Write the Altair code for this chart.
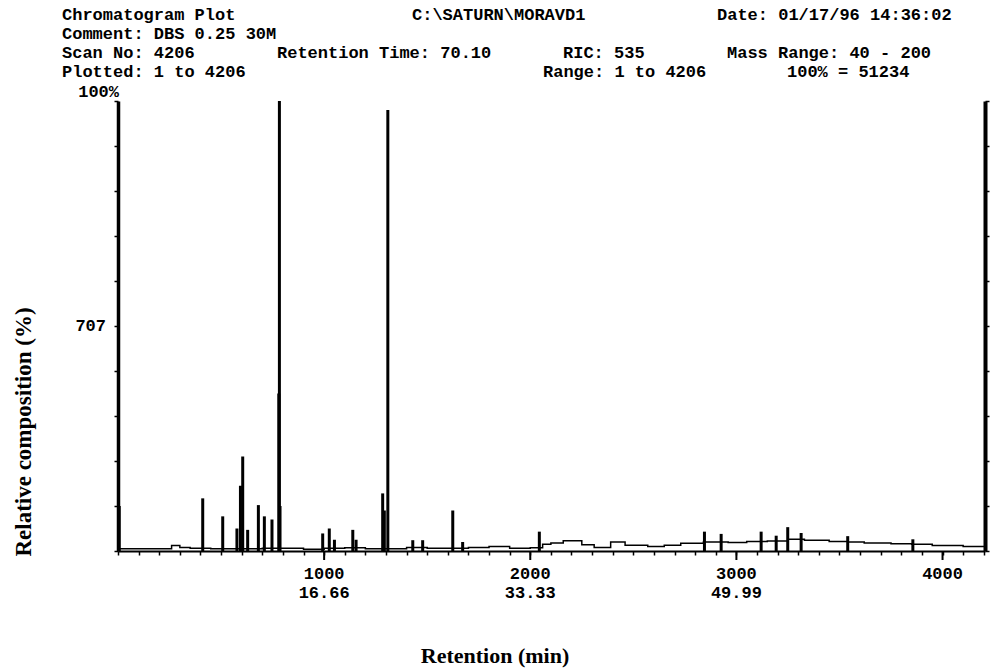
import altair as alt
import pandas as pd

# ---------------- data ----------------
peak_scans = [6, 411, 508, 577, 594, 605, 629, 681, 710, 747, 780, 783, 786,
              993, 1025, 1050, 1139, 1155, 1284, 1292, 1309, 1430, 1478, 1624,
              1672, 2044, 2845, 2926, 3120, 3193, 3249, 3314, 3540, 3856]
peak_heights = [10, 11.7, 7.7, 5, 14.5, 21, 4.7, 10.2, 7.7, 7, 35, 100, 10,
                3.9, 5, 2.5, 4.7, 2.5, 12.8, 9, 98, 2.4, 2.4, 9,
                2, 4.3, 4.3, 3.8, 4.3, 3.4, 5.3, 4, 3.3, 2.6]

base_scans = [0, 250, 260, 300, 350, 450, 700, 800, 900, 1000, 1100, 1200, 1400,
              1500, 1700, 1800, 1900, 2000, 2060, 2100, 2160, 2250, 2310, 2390,
              2460, 2570, 2650, 2730, 2840, 2960, 3050, 3150, 3250, 3330, 3450,
              3540, 3620, 3750, 3850, 3950, 4100, 4206]
base_levels = [0.5, 0.5, 1.2, 0.8, 0.6, 0.5, 0.6, 0.6, 0.4, 0.6, 0.7, 0.5, 0.8,
               0.6, 0.8, 1.0, 0.6, 0.7, 1.5, 1.8, 2.3, 1.4, 0.8, 2.0,
               1.3, 1.0, 1.3, 1.7, 2.0, 1.9, 2.1, 2.2, 2.6, 2.4, 2.1,
               2.0, 1.8, 1.6, 1.5, 1.2, 1.0, 1.0]

tick_scans = [1000, 2000, 3000, 4000]
tick_times = ["16.66", "33.33", "49.99", ""]
minor_ticks = list(range(0, 4201, 100))
y_ticks = list(range(0, 101, 10))

header_texts = ["Chromatogram Plot", "C:\\SATURN\\MORAVD1", "Date: 01/17/96  14:36:02",
                "Comment: DBS 0.25 30M",
                "Scan No: 4206", "Retention Time: 70.10", "RIC: 535", "Mass Range: 40 - 200",
                "Plotted: 1 to 4206", "Range: 1 to 4206", "100% = 51234"]
y_top_label = "100%"
y_mid_value = [50]
y_mid_label = ["707"]
x_title = "Retention (min)"
y_title = "Relative composition (%)"

# ---------------- layout ----------------
PAD_L, PAD_T = 118, 101
W, H = 867, 450
header_x = [62, 412, 717, 62, 62, 277, 563, 727, 62, 543, 787]
header_row = [0, 0, 0, 1, 2, 2, 2, 2, 3, 3, 3]
row_y = [15, 34, 53, 72]
MONO = "Liberation Mono"
SERIF = "Liberation Serif"
HFS = 17

peaks = pd.DataFrame({"scan": peak_scans, "height": peak_heights})
base = pd.DataFrame({"scan": base_scans, "level": base_levels})
ticks = pd.DataFrame({"scan": tick_scans, "time": tick_times,
                      "label": [str(s) for s in tick_scans]})

xs = alt.Scale(domain=[0, 4206], nice=False, zero=False)
ys = alt.Scale(domain=[0, 100], nice=False)

x_axis = alt.Axis(values=minor_ticks, labels=False, title=None, grid=False,
                  domainColor="black", domainWidth=2, tickColor="black",
                  tickSize=4, tickWidth=1.5)
y_left = alt.Axis(values=y_ticks, labels=False, title=None, grid=False, orient="left",
                  domainColor="black", domainWidth=3.5, tickColor="black",
                  tickSize=4, tickWidth=1.5)
y_right = alt.Axis(values=y_ticks, labels=False, title=None, grid=False, orient="right",
                   domainColor="black", domainWidth=4, tickColor="black",
                   tickSize=4, tickWidth=1.5)

baseline = alt.Chart(base).mark_line(color="black", strokeWidth=1.5,
                                     interpolate="step-after").encode(
    x=alt.X("scan:Q", scale=xs, axis=x_axis),
    y=alt.Y("level:Q", scale=ys, axis=y_left),
)
right = alt.Chart(base).mark_line(opacity=0).encode(
    x=alt.X("scan:Q", scale=xs, axis=None),
    y=alt.Y("level:Q", scale=ys, axis=y_right),
)
sticks = alt.Chart(peaks).mark_rule(color="black", strokeWidth=3).encode(
    x=alt.X("scan:Q", scale=xs, axis=None),
    y=alt.Y("height:Q", scale=ys, axis=None),
    y2=alt.datum(0),
)
major = alt.Chart(ticks).mark_rule(color="black", strokeWidth=2).encode(
    x=alt.X("scan:Q", scale=xs, axis=None),
    y=alt.value(H), y2=alt.value(H + 9),
)
lab1 = alt.Chart(ticks).mark_text(font=MONO, fontWeight="bold", fontSize=HFS,
                                  baseline="middle", color="black").encode(
    x=alt.X("scan:Q", scale=xs, axis=None), y=alt.value(473), text="label:N")
lab2 = alt.Chart(ticks).mark_text(font=MONO, fontWeight="bold", fontSize=HFS,
                                  baseline="middle", color="black").encode(
    x=alt.X("scan:Q", scale=xs, axis=None), y=alt.value(492), text="time:N")

ymid = alt.Chart(pd.DataFrame({"v": y_mid_value, "t": y_mid_label})).mark_text(
    font=MONO, fontWeight="bold", fontSize=HFS, baseline="middle", align="right",
    color="black").encode(
    x=alt.value(-12), y=alt.Y("v:Q", scale=ys, axis=None), text="t:N")

texts = []
for t, hx, hr in zip(header_texts, header_x, header_row):
    texts.append(alt.Chart(pd.DataFrame({"t": [t]})).mark_text(
        font=MONO, fontWeight="bold", fontSize=HFS, align="left", baseline="middle",
        color="black").encode(
        x=alt.value(hx - PAD_L), y=alt.value(row_y[hr] - PAD_T), text="t:N"))

texts.append(alt.Chart(pd.DataFrame({"t": [y_top_label]})).mark_text(
    font=MONO, fontWeight="bold", fontSize=HFS, align="right", baseline="middle",
    color="black").encode(x=alt.value(1), y=alt.value(92 - PAD_T), text="t:N"))
texts.append(alt.Chart(pd.DataFrame({"t": [x_title]})).mark_text(
    font=SERIF, fontWeight="bold", fontSize=22, align="center", baseline="middle",
    color="black").encode(x=alt.value(495 - PAD_L), y=alt.value(656 - PAD_T), text="t:N"))
texts.append(alt.Chart(pd.DataFrame({"t": [y_title]})).mark_text(
    font=SERIF, fontWeight="bold", fontSize=23, align="center", baseline="middle",
    angle=270, color="black").encode(x=alt.value(24 - PAD_L), y=alt.value(432 - PAD_T),
                                     text="t:N"))

chart = alt.layer(baseline, right, sticks, major, lab1, lab2, ymid, *texts).resolve_axis(
    y="independent", x="independent"
).properties(
    width=W, height=H,
    autosize=alt.AutoSizeParams(type="none"),
    padding={"left": PAD_L, "top": PAD_T, "right": 993 - PAD_L - W, "bottom": 668 - PAD_T - H},
    background="white",
).configure_view(stroke=None)

chart.save("out.html", embed_options={"renderer": "svg", "actions": False})
